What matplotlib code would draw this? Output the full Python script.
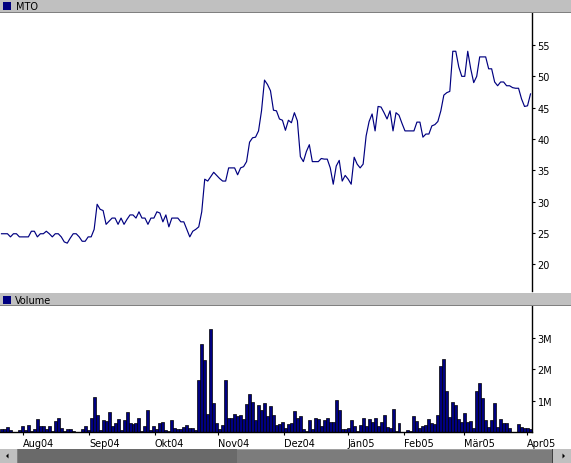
import matplotlib
matplotlib.use('Agg')
import matplotlib.pyplot as plt
from matplotlib.patches import Rectangle, Polygon

W, H = 571, 464

# daily close of MTO (one value per trading day, Jul 04 .. Apr 05)
price = [24.9, 24.9, 24.9, 24.4, 24.9, 24.9, 24.4, 24.4, 24.4, 24.4,
         25.3, 25.3, 24.4, 24.9, 24.9, 25.3, 24.9, 24.4, 24.9, 24.9,
         24.4, 23.6, 23.4, 24.2, 24.9, 24.9, 24.4, 23.7, 23.7, 24.4,
         24.4, 25.6, 29.6, 28.8, 28.6, 26.4, 26.9, 27.4, 27.4, 26.4,
         27.4, 26.4, 27.2, 27.9, 27.9, 27.4, 28.4, 27.4, 27.4, 26.4,
         27.4, 27.4, 28.4, 28.2, 26.8, 27.9, 26.0, 27.4, 27.4, 27.4,
         26.8, 26.8, 25.6, 24.4, 25.3, 25.6, 26.0, 28.4, 33.6, 33.3,
         34.0, 34.7, 34.2, 33.7, 33.3, 33.3, 35.4, 35.4, 35.4, 34.3,
         35.4, 35.6, 36.4, 39.5, 40.2, 40.3, 41.3, 44.5, 49.4, 48.7,
         47.7, 44.6, 44.5, 43.2, 43.0, 41.4, 43.0, 42.6, 44.2, 42.9,
         37.2, 36.4, 38.0, 39.1, 36.4, 36.4, 36.4, 36.9, 36.8, 36.8,
         35.4, 32.8, 35.7, 36.6, 33.3, 34.2, 33.6, 32.8, 37.1, 36.0,
         35.4, 36.0, 40.5, 42.8, 44.0, 41.3, 45.2, 45.1, 44.2, 43.2,
         44.5, 41.3, 44.2, 43.8, 42.5, 41.3, 41.3, 41.3, 41.3, 42.7,
         42.7, 40.3, 40.8, 40.8, 42.1, 42.3, 42.8, 44.5, 47.0, 47.4,
         47.6, 54.0, 54.0, 51.5, 50.0, 50.0, 54.0, 51.2, 49.0, 50.0,
         53.1, 53.1, 53.1, 51.2, 51.2, 49.1, 48.5, 49.1, 49.1, 48.5,
         48.5, 48.2, 48.1, 48.1, 46.4, 45.2, 45.3, 47.2]

# daily volume in millions
volume = [0.09, 0.11, 0.16, 0.06, 0.01, 0.01, 0.05, 0.19, 0.05, 0.22,
          0.02, 0.11, 0.43, 0.19, 0.19, 0.11, 0.19, 0.02, 0.36, 0.46,
          0.13, 0.02, 0.11, 0.09, 0.02, 0.00, 0.01, 0.11, 0.19, 0.05,
          0.46, 1.12, 0.55, 0.05, 0.39, 0.34, 0.65, 0.19, 0.29, 0.43,
          0.05, 0.39, 0.65, 0.29, 0.27, 0.29, 0.46, 0.02, 0.18, 0.71,
          0.05, 0.18, 0.11, 0.29, 0.32, 0.05, 0.02, 0.39, 0.14, 0.11,
          0.08, 0.17, 0.21, 0.14, 0.14, 0.07, 1.65, 2.82, 2.31, 0.59,
          3.30, 0.94, 0.30, 0.11, 0.23, 1.67, 0.46, 0.46, 0.59, 0.50,
          0.53, 0.43, 0.90, 1.22, 0.96, 0.39, 0.87, 0.69, 0.94, 0.50,
          0.83, 0.55, 0.21, 0.27, 0.32, 0.14, 0.27, 0.30, 0.68, 0.46,
          0.51, 0.11, 0.03, 0.39, 0.11, 0.46, 0.43, 0.18, 0.39, 0.46,
          0.32, 0.32, 1.03, 0.71, 0.11, 0.11, 0.14, 0.39, 0.18, 0.03,
          0.22, 0.45, 0.20, 0.41, 0.33, 0.45, 0.20, 0.31, 0.54, 0.17,
          0.13, 0.73, 0.04, 0.29, 0.00, 0.00, 0.06, 0.03, 0.50, 0.36,
          0.14, 0.20, 0.23, 0.41, 0.30, 0.25, 0.53, 2.11, 2.34, 1.30,
          0.47, 0.96, 0.85, 0.41, 0.33, 0.62, 0.33, 0.35, 0.12, 1.30,
          1.57, 1.09, 0.39, 0.15, 0.37, 0.92, 0.17, 0.41, 0.28, 0.28,
          0.12, 0.00, 0.00, 0.25, 0.17, 0.14, 0.12, 0.10]

month_labels = ['Aug04', 'Sep04', 'Okt04', 'Nov04', 'Dez04',
                'Jän05', 'Feb05', 'Mär05', 'Apr05']
month_pos = [7.2, 29.3, 51.3, 72.4, 94.5, 115.9, 134.6, 154.7, 175.7]
price_ticks = [20, 25, 30, 35, 40, 45, 50, 55]
vol_ticks = [1, 2, 3]
vol_tick_labels = ['1M', '2M', '3M']

NAVY = '#000080'
GREY = '#c0c0c0'
DARK = '#808080'
FS = 7


def fx(x):
    return x / W


def fy(y):
    return 1 - y / H


fig = plt.figure(figsize=(W / 100, H / 100), dpi=100)
fig.patch.set_facecolor('white')


def box(x0, y0, x1, y1, color):
    fig.add_artist(Rectangle((fx(x0), fy(y1)), (x1 - x0) / W, (y1 - y0) / H,
                             transform=fig.transFigure, facecolor=color,
                             edgecolor='none', zorder=5))


def tri(pts, color='black'):
    fig.add_artist(Polygon([(fx(a), fy(b)) for a, b in pts], closed=True,
                           transform=fig.transFigure, facecolor=color,
                           edgecolor='none', zorder=6))


# price pane
ax1 = fig.add_axes([0, fy(292), 532 / W, (292 - 14) / H])
ax1.plot(range(len(price)), price, color=NAVY, lw=0.85)
ax1.set_xlim(-0.5, 177.5)
ax1.set_ylim(15.77, 60.1)
for s in ['top', 'left', 'bottom']:
    ax1.spines[s].set_visible(False)
ax1.spines['right'].set_linewidth(1.0)
ax1.yaxis.tick_right()
ax1.set_yticks(price_ticks)
ax1.set_xticks([])
ax1.tick_params(axis='y', length=2.5, width=0.8, pad=1.5, labelsize=FS)

# volume pane
ax2 = fig.add_axes([0, fy(433), 532 / W, (433 - 307) / H])
ax2.bar(range(len(volume)), volume, width=1.0, color=NAVY,
        edgecolor='black', linewidth=0.5)
ax2.set_xlim(-0.5, 177.5)
ax2.set_ylim(0, 4.03)
for s in ['top', 'left']:
    ax2.spines[s].set_visible(False)
ax2.spines['right'].set_linewidth(1.0)
ax2.spines['bottom'].set_linewidth(1.0)
ax2.yaxis.tick_right()
ax2.set_yticks(vol_ticks)
ax2.set_yticklabels(vol_tick_labels)
ax2.set_xticks(month_pos)
ax2.set_xticklabels(month_labels, ha='left')
ax2.tick_params(axis='y', length=2.5, width=0.8, pad=1.5, labelsize=FS)
ax2.tick_params(axis='x', length=2.5, width=0.8, pad=2, labelsize=FS)

# pane headers
box(0, 0, W, 13, GREY)
box(0, 13, W, 14.3, DARK)
box(3.3, 3.3, 10.7, 10.7, NAVY)
fig.text(fx(16), fy(7.5), 'MTO', fontsize=FS, va='center', ha='left', zorder=7)

box(0, 293.5, W, 306, GREY)
box(0, 306, W, 307.3, DARK)
box(3.3, 297, 10.7, 304.5, NAVY)
fig.text(fx(15), fy(300.5), 'Volume', fontsize=FS, va='center', ha='left', zorder=7)

# scrollbar
box(0, 449.5, W, H, GREY)
box(17.5, 449.5, 237, H, '#6a6a6a')
box(237, 449.5, 552, H, '#7c7c7c')
box(237, 449.5, 552, 450.5, '#a0a0a0')
box(17, 449.5, 18, H, DARK)
box(552, 449.5, 553, H, '#404040')
tri([(6, 457), (8.5, 454.5), (8.5, 459.5)])
tri([(565, 457), (562.5, 454.5), (562.5, 459.5)])

fig.savefig('out.png', dpi=100)
